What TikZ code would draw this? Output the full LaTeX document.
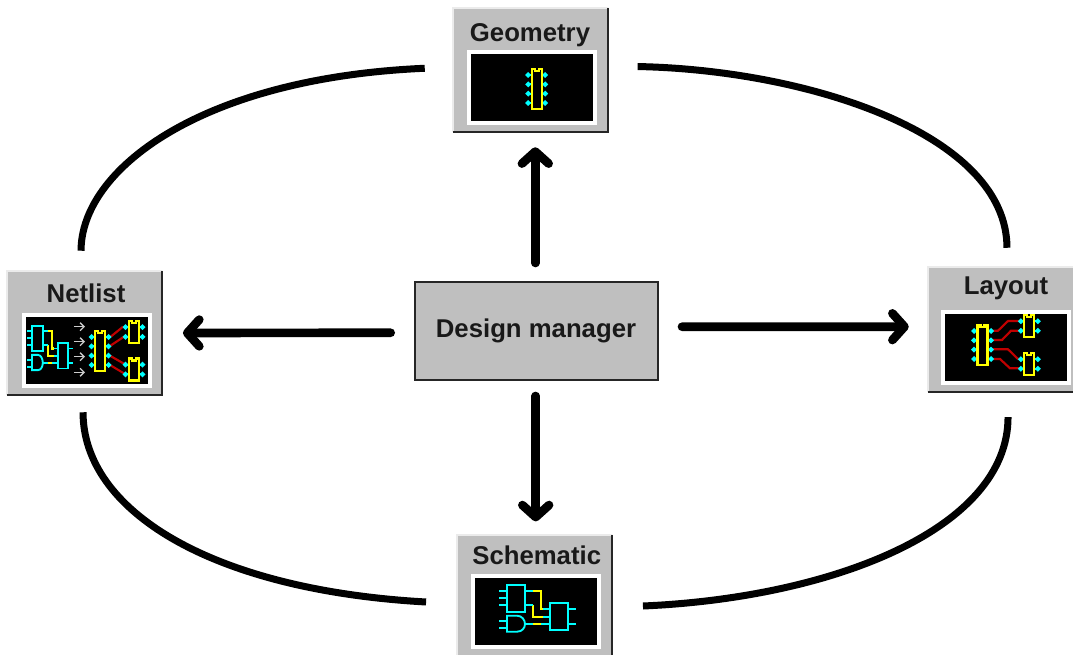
\documentclass[tikz,border=0pt]{standalone}
\usepackage{fontspec}
\setmainfont{Liberation Sans}
\usetikzlibrary{arrows.meta}
\definecolor{panelgrey}{HTML}{BFBFBF}
\definecolor{wirered}{HTML}{C00000}
\definecolor{pincyan}{HTML}{00FFFF}
\definecolor{chipyellow}{HTML}{FFFF00}
\newcommand{\panelbevel}[1]{%
  \draw[line width=1.5pt,color=black!8] (#1.south west) -- (#1.north west) -- (#1.north east);
  \draw[line width=1.5pt,color=black!85] (#1.north east) -- (#1.south east) -- (#1.south west);
}
\tikzset{
  panel/.style={fill=panelgrey,inner sep=0pt,minimum width=155*0.75pt,minimum height=124*0.75pt},
  screen/.style={fill=black,draw=white,line width=3pt,inner sep=0pt,minimum width=126*0.75pt,minimum height=71*0.75pt},
  title/.style={font=\bfseries\fontsize{19.3}{20}\selectfont,anchor=base,inner sep=0pt,text=black!90},
  flowarrow/.style={line width=6.5pt,line cap=round,-{Straight Barb[round,length=9pt,width=20pt]}},
  loopline/.style={line width=5.25pt,line cap=butt},
  cyanline/.style={draw=pincyan,line width=1.4pt},
  chipline/.style={draw=chipyellow,line width=1.6pt},
  redline/.style={draw=wirered,line width=1.6pt},
  bigchip/.pic={
    \foreach \y in {-14,-4.7,4.7,14} {
      \draw[cyanline] (-9,\y) -- (-5,\y) (5,\y) -- (9,\y);
      \fill[pincyan] (-11.5,\y) -- (-8.5,\y-3) -- (-5.5,\y) -- (-8.5,\y+3) -- cycle;
      \fill[pincyan] (11.5,\y) -- (8.5,\y-3) -- (5.5,\y) -- (8.5,\y+3) -- cycle;
    }
    \draw[chipline] (-5,-20) -- (-2,-20) -- (-2,-18) -- (2,-18) -- (2,-20) -- (5,-20) -- (5,20) -- (-5,20) -- cycle;
  },
  smallchip/.pic={
    \foreach \y in {-4.8,4.8} {
      \draw[cyanline] (-9,\y) -- (-5,\y) (5,\y) -- (9,\y);
      \fill[pincyan] (-11.5,\y) -- (-8.5,\y-3) -- (-5.5,\y) -- (-8.5,\y+3) -- cycle;
      \fill[pincyan] (11.5,\y) -- (8.5,\y-3) -- (5.5,\y) -- (8.5,\y+3) -- cycle;
    }
    \draw[chipline] (-5,-11) -- (-2,-11) -- (-2,-9) -- (2,-9) -- (2,-11) -- (5,-11) -- (5,11) -- (-5,11) -- cycle;
  },
  gates/.pic={
    % yellow wires first
    \draw[chipline] (-4,-17.3) -- (4,-17.3) -- (4,1) -- (6,1);
    \draw[chipline] (-4,-3) -- (-4,8.7) -- (6,8.7);
    \draw[chipline] (-4,16) -- (4,16);
    \draw[cyanline] (-12,-17.3) -- (-4,-17.3);
    \draw[cyanline] (-12,-3) -- (-4,-3);
    \draw[cyanline] (6,1) -- (13,1) (6,8.7) -- (13,8.7);
    \draw[cyanline] (-12,16) -- (-4,16) (4,16) -- (13,16);
    \draw[cyanline] (-30,-23) rectangle (-12,4);
    \draw[cyanline] (-38,-17.3) -- (-30,-17.3) (-38,-9.7) -- (-30,-9.7) (-38,-3) -- (-30,-3);
    \draw[cyanline] (-30,7.7) -- (-20,7.7) .. controls (-15,7.7) and (-12,12) .. (-12,16) .. controls (-12,20) and (-15,23.7) .. (-20,23.7) -- (-30,23.7) -- cycle;
    \draw[cyanline] (-38,12.7) -- (-30,12.7) (-38,20.3) -- (-30,20.3);
    \draw[cyanline] (13,-4.7) rectangle (30.7,22);
    \draw[cyanline] (30.7,1) -- (39,1) (30.7,16) -- (39,16);
  }
}
\begin{document}
\begin{tikzpicture}[x=0.75pt,y=0.75pt,yscale=-1,xscale=1]
  \useasboundingbox (0,0) rectangle (1073,655);
  \clip (0,0) rectangle (1073,655);

  \node[panel] (geometry) at (530.5,70) {};
  \node[panel] (netlist) at (84.5,333) {};
  \node[panel] (layout) at (1005.5,329.5) {};
  \node[panel] (schematic) at (534.5,597) {};
  \panelbevel{geometry}
  \panelbevel{netlist}
  \panelbevel{layout}
  \panelbevel{schematic}

  \node[title] (geometrytitle) at (530,41.7) {Geometry};
  \node[title] (netlisttitle) at (86,302.7) {Netlist};
  \node[title] (layouttitle) at (1006,295) {Layout};
  \node[title] (schematictitle) at (536.7,564.3) {Schematic};

  \node[screen] (geometryscreen) at (532,87.5) {};
  \node[screen] (netlistscreen) at (86.5,350.5) {};
  \node[screen] (layoutscreen) at (1005.5,347.5) {};
  \node[screen] (schematicscreen) at (535.5,611.5) {};

  % geometry icon
  \pic[yscale=-1] at (536.7,89) {bigchip};

  % netlist icon
  \pic[xscale=.6,yscale=-.95] at (50,347.6) {gates};
  \foreach \y in {326.7,341.7,356.7,372.3} {
    \draw[color=black!20,line width=1pt,-{Straight Barb[length=3pt,width=6pt]}] (74,\y) -- (85,\y);
  }
  \draw[redline] (110.7,336.7) -- (123,326.7) (110,346) -- (124,336.7);
  \draw[redline] (110,355.7) -- (125,364.3) (110,365) -- (125,374);
  \pic[yscale=-1] at (100,351) {bigchip};
  \pic[yscale=-1] at (134,332) {smallchip};
  \pic[yscale=-1] at (134,369.5) {smallchip};

  % layout icon
  \draw[redline] (990,330.7) -- (998,330.7) -- (1008,321) -- (1021,321);
  \draw[redline] (990,340) -- (1002,340) -- (1011,330.7) -- (1021,330.7);
  \draw[redline] (990,349.3) -- (1008,349.3) -- (1018,359) -- (1021,359);
  \draw[redline] (990,359) -- (1000,359) -- (1010,368.3) -- (1021,368.3);
  \pic[yscale=-1] at (982.5,345) {bigchip};
  \pic[yscale=-1] at (1029.3,326) {smallchip};
  \pic[yscale=-1] at (1029.3,364) {smallchip};

  % schematic icon
  \pic[yscale=-1] at (537,608) {gates};

  \node[fill=panelgrey,draw=black!85,line width=1pt,inner sep=0pt,minimum width=243*0.75pt,minimum height=98*0.75pt] (manager) at (536.5,331) {};
  \node[title] (managertitle) at (536,338) {Design manager};

  % arrows out of the manager
  \draw[flowarrow,shorten <=13.75pt,shorten >=11.25pt] ([xshift=-.9pt]manager.north) -- ([xshift=3.6pt]geometry.south);
  \draw[flowarrow,shorten <=17.75pt,shorten >=15.5pt] ([yshift=1.3pt]manager.west) -- (netlist.east);
  \draw[flowarrow,shorten <=17.5pt,shorten >=14.25pt] ([yshift=-3.2pt]manager.east) -- ([yshift=-2.1pt]layout.west);
  \draw[flowarrow,shorten <=11.5pt,shorten >=10pt] ([xshift=-.6pt]manager.south) -- ([xshift=.9pt]schematic.north);

  % loop between the tools
  \draw[loopline] ([xshift=-2.6pt,yshift=-15pt]netlist.north) .. controls (81,170) and (200,78) .. ([xshift=-21pt,yshift=-1.3pt]geometry.west);
  \draw[loopline] ([xshift=22pt,yshift=-2.6pt]geometry.east) .. controls (810,70) and (1007,135) .. ([xshift=1.1pt,yshift=-14.6pt]layout.north);
  \draw[loopline] ([xshift=-1.1pt,yshift=12.75pt]netlist.south) .. controls (83,510) and (210,590) .. ([xshift=-23pt,yshift=3.75pt]schematic.west);
  \draw[loopline] ([xshift=23pt,yshift=6.75pt]schematic.east) .. controls (830,598) and (1008,530) .. ([xshift=1.9pt,yshift=19pt]layout.south);
\end{tikzpicture}
\end{document}
